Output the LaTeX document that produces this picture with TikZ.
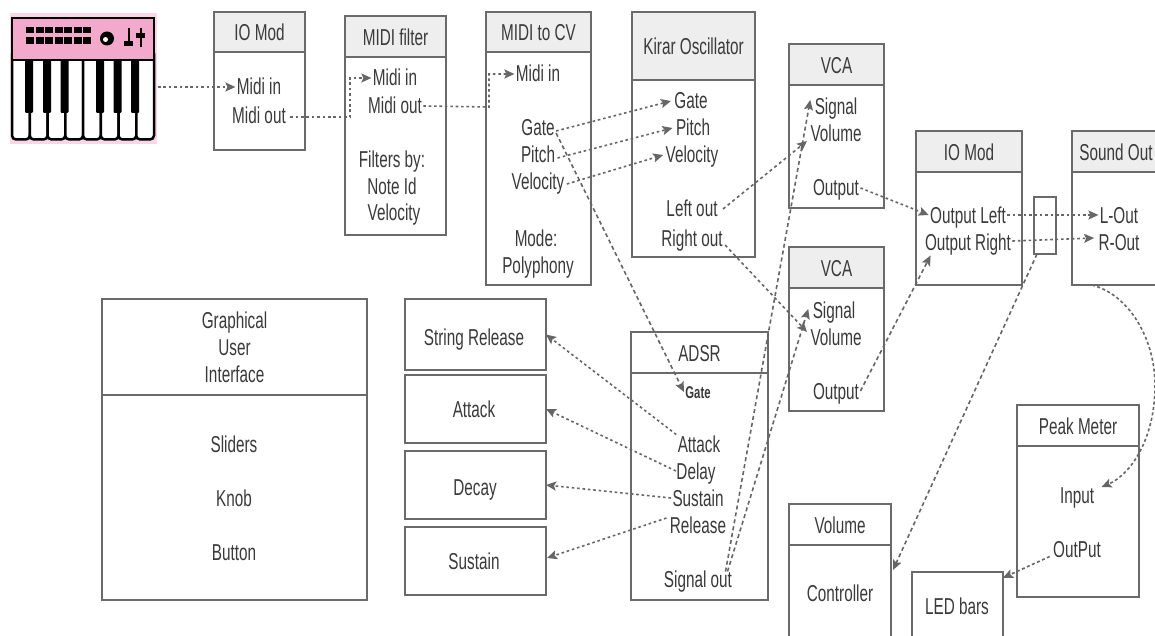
\documentclass[tikz,border=0pt]{standalone}
\usepackage{fontspec}
\setmainfont[FakeStretch=0.665]{Liberation Sans}
\usetikzlibrary{arrows.meta,calc}
\definecolor{linegray}{HTML}{6A6A6A}
\definecolor{conngray}{HTML}{666666}
\definecolor{headgray}{HTML}{EEEEEE}
\definecolor{txt}{HTML}{3A3A3A}
\definecolor{kbdbg}{HTML}{F9D7E6}
\definecolor{kbdpanel}{HTML}{F3A9CB}
\tikzset{
  boxbase/.style={draw=linegray,line width=1.8pt,inner sep=0pt,outer sep=0pt,fill=white,text=txt,
     font=\fontsize{23}{27}\selectfont,align=center},
  boxtext/.style={boxbase,text height=18pt,text depth=0pt},
  headgrey/.style={boxtext,fill=headgray},
  headwhite/.style={boxtext},
  headtall/.style={boxbase},
  lbl/.style={inner sep=1.5pt,outer sep=0pt,text=txt,font=\fontsize{23}{27}\selectfont,align=center,
     text height=16pt,text depth=0pt},
  smalllbl/.style={lbl,font=\fontsize{17}{20}\selectfont\bfseries,text height=12pt},
  conn/.style={draw=conngray,line width=1.6pt,dash pattern=on 2.6pt off 2.8pt,
     -{Stealth[length=10pt,width=9pt,inset=2pt,fill=conngray]}},
  connd/.style={conn,dash pattern=on 4pt off 3pt},
  blackkey/.style={fill=black,draw=none},
}
% name, x1, y1, x2, y2, header bottom y, header style, title
\newcommand{\umlbox}[8]{%
  \pgfmathsetmacro{\bw}{#4-#2}\pgfmathsetmacro{\bh}{#5-#3}%
  \pgfmathsetmacro{\hh}{#6-#3}%
  \pgfmathsetmacro{\bx}{(#2+#4)/2}\pgfmathsetmacro{\by}{(#3+#5)/2}\pgfmathsetmacro{\hy}{(#3+#6)/2}%
  \node[boxbase,minimum width=\bw pt,minimum height=\bh pt] (#1) at (\bx,\by) {};%
  \node[#7,minimum width=\bw pt,minimum height=\hh pt] (#1-h) at (\bx,\hy) {#8};%
}
\newcommand{\plainbox}[5]{%
  \pgfmathsetmacro{\bw}{#4-#2}\pgfmathsetmacro{\bh}{#5-#3}%
  \pgfmathsetmacro{\bx}{(#2+#4)/2}\pgfmathsetmacro{\by}{(#3+#5)/2}%
  \node[boxbase,minimum width=\bw pt,minimum height=\bh pt] (#1) at (\bx,\by) {};%
}
\begin{document}
\begin{tikzpicture}[x=1pt,y=-1pt]
\clip (0,0) rectangle (1155,636);
\fill[white] (0,0) rectangle (1155,636);

% keyboard icon
\node[fill=kbdbg,minimum width=147pt,minimum height=131pt,inner sep=0pt,outer sep=0pt] (kbd) at (83.5,78.5) {};
\foreach \x in {12,29.75,47.5,65.25,83,100.75,118.5,136.25}
  \draw[line width=2.5pt,fill=white,rounded corners=4pt] (\x,50) rectangle ({\x+17.75},139.5);
\draw[line width=2.5pt,fill=kbdpanel] (12,18) rectangle (154,60);
\foreach \x in {29,47,64.5,100,117.5,135}
  \fill[blackkey,rounded corners=1pt] ({\x-4},60) rectangle ({\x+4},113);
\foreach \x in {26,35.5,45,54.5,64,73.5,83}
  \foreach \y in {27,37.5}
    \fill[black] (\x,\y) rectangle ({\x+8},{\y+6.5});
\fill[black] (107,38.5) circle (7pt);
\fill[white] (105.5,39.5) circle (2.5pt);
\draw[line width=2pt] (128.5,28) -- (128.5,46);
\fill[black] (124,41) rectangle (133,46);
\draw[line width=2pt] (140.5,28) -- (140.5,47);
\fill[black] (136,33) rectangle (145,38);

% boxes
\umlbox{ioa}{214}{12}{305}{150}{52}{headgrey}{IO Mod}
\umlbox{flt}{345}{16}{446}{235}{57}{headgrey}{MIDI filter}
\umlbox{cv}{486}{12}{591}{285}{52}{headgrey}{MIDI to CV}
\umlbox{kir}{632}{12}{755}{257}{80}{headgrey}{Kirar Oscillator}
\umlbox{vca}{789}{44}{884}{208}{85}{headgrey}{VCA}
\umlbox{vcb}{789}{247}{884}{411}{288}{headgrey}{VCA}
\umlbox{iob}{916}{131}{1022}{285}{172}{headgrey}{IO Mod}
\umlbox{snd}{1072}{131}{1160}{285}{172}{headgrey}{Sound Out}
\umlbox{gui}{102}{299}{367}{600}{395}{headtall}{Graphical\\User\\Interface}
\umlbox{adsr}{631}{332}{768}{600}{373}{headwhite}{ADSR}
\umlbox{pk}{1017}{405}{1139}{597}{446}{headwhite}{Peak Meter}
\umlbox{vol}{789}{504}{891}{645}{545}{headwhite}{Volume}
\plainbox{led}{912}{572}{1003}{645}
\plainbox{srel}{405}{299}{546}{370}
\plainbox{satk}{405}{375}{546}{443}
\plainbox{sdec}{405}{451}{546}{519}
\plainbox{ssus}{405}{527}{546}{595}
\plainbox{tap}{1034}{197}{1056}{254}

% labels
\node[lbl] (srel-t) at (474,337) {String Release};
\node[lbl] (satk-t) at (474,409) {Attack};
\node[lbl] (sdec-t) at (475,487) {Decay};
\node[lbl] (ssus-t) at (474,561) {Sustain};
\node[lbl] (ioa-in) at (259,87) {Midi in};
\node[lbl] (ioa-out) at (259,116) {Midi out};
\node[lbl] (flt-in) at (395,78) {Midi in};
\node[lbl] (flt-out) at (395,106) {Midi out};
\node[lbl] (flt-a) at (392,160) {Filters by:};
\node[lbl] (flt-b) at (392,187) {Note Id};
\node[lbl] (flt-c) at (394,213) {Velocity};
\node[lbl] (cv-in) at (538,74) {Midi in};
\node[lbl] (cv-gate) at (538,128) {Gate};
\node[lbl] (cv-pitch) at (538,155) {Pitch};
\node[lbl] (cv-vel) at (538,182) {Velocity};
\node[lbl] (cv-mode) at (536,238) {Mode:};
\node[lbl] (cv-poly) at (538,265) {Polyphony};
\node[lbl] (kir-gate) at (691,101) {Gate};
\node[lbl] (kir-pitch) at (693,128) {Pitch};
\node[lbl] (kir-vel) at (692,155) {Velocity};
\node[lbl] (kir-l) at (692,209) {Left out};
\node[lbl] (kir-r) at (692,238) {Right out};
\node[lbl] (vca-s) at (836,107) {Signal};
\node[lbl] (vca-v) at (836,134) {Volume};
\node[lbl] (vca-o) at (836,188) {Output};
\node[lbl] (vcb-s) at (834,310) {Signal};
\node[lbl] (vcb-v) at (836,337) {Volume};
\node[lbl] (vcb-o) at (836,391) {Output};
\node[lbl] (iob-l) at (968,215) {Output Left};
\node[lbl] (iob-r) at (968,243) {Output Right};
\node[lbl] (snd-l) at (1119,215) {L-Out};
\node[lbl] (snd-r) at (1119,243) {R-Out};
\node[lbl] (gui-a) at (234,444) {Sliders};
\node[lbl] (gui-b) at (234,498) {Knob};
\node[lbl] (gui-c) at (234,552) {Button};
\node[smalllbl] (adsr-gate) at (698,392) {Gate};
\node[lbl] (adsr-a) at (699,444) {Attack};
\node[lbl] (adsr-d) at (696,471) {Delay};
\node[lbl] (adsr-s) at (698,498) {Sustain};
\node[lbl] (adsr-r) at (698,525) {Release};
\node[lbl] (adsr-o) at (698,579) {Signal out};
\node[lbl] (pk-i) at (1077,495) {Input};
\node[lbl] (pk-o) at (1077,549) {OutPut};
\node[lbl] (vol-c) at (840,593) {Controller};
\node[lbl] (led-t) at (957,606) {LED bars};

% connectors
\coordinate (e1) at (350,117);
\coordinate (e2) at (489,107);
\draw[conn] ($(kbd.east)+(1,8.5)$) -- (ioa-in.west);
\draw[conn] ($(ioa-out.east)+(3,1)$) -- (e1) |- (flt-in.west);
\draw[conn] (flt-out.east) -- (e2) |- (cv-in.west);
\draw[conn] ($(cv-gate.east)+(0,3)$) -- ($(kir-gate.west)+(-2,0)$);
\draw[conn] ($(cv-pitch.east)+(1,3)$) -- ($(kir-pitch.west)+(-2,0)$);
\draw[conn] ($(cv-vel.east)+(1,2)$) -- ($(kir-vel.west)+(-1,0)$);
\draw[connd] ($(cv-gate.east)+(0,5)$) -- (adsr-gate.west);
\draw[connd,dash pattern=on 3pt off 3pt] ($(kir-l.east)+(4,0)$) -- ($(vca-v.west)+(-2,7)$);
\draw[connd,dash pattern=on 3pt off 3pt] ($(kir-r.east)+(1,7)$) -- ($(vcb-v.west)+(-2,-5)$);
\draw[conn] (vca-o.east) -- (iob-l.west);
\draw[connd] (vcb-o.east) -- ($(iob-r.south west)+(7,3)$);
\draw[connd] ($(adsr-o.north east)+(-8,2)$) -- ($(vca-s.west)+(-3,-7)$);
\draw[connd] ($(adsr-o.north east)+(-6,2)$) -- ($(vcb-s.west)+(-3,-1)$);
\draw[conn] (iob-l.east) -- (snd-l.west);
\draw[conn] ($(iob-r.east)+(0,-2)$) -- ($(snd-r.west)+(-3,-5)$);
\draw[connd] ($(tap.south west)+(3,0)$) -- ($(vol.north east)+(2,66)$);
\draw[connd,dash pattern=on 3pt off 2.5pt] ($(snd.south)+(-24,0)$) .. controls (1130,295) and (1155,340) .. (1155,385)
   .. controls (1155,440) and (1130,475) .. ($(pk-i.east)+(6,-8)$);
\draw[connd,dash pattern=on 3pt off 2.5pt] ($(pk-o.south west)+(-2,-2)$) -- (led.34);
\draw[conn] (adsr-a.north west) -- (srel.east);
\draw[conn] ($(adsr-d.west)+(1,0)$) -- (satk.east);
\draw[conn] (adsr-s.west) -- (sdec.east);
\draw[conn] ($(adsr-r.west)+(-2,-7)$) -- ($(ssus.east)+(1,-3)$);
\end{tikzpicture}
\end{document}
